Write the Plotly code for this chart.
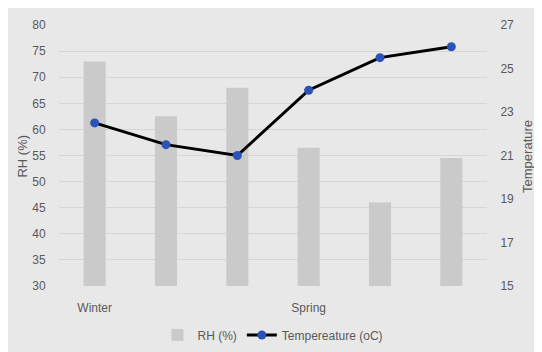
import plotly.graph_objects as go

categories = ["Winter", "", "", "Spring", "", ""]
rh_values = [73, 62.5, 68, 56.5, 46, 54.5]
temp_values = [22.5, 21.5, 21, 24, 25.5, 26]
left_ticks = [30, 35, 40, 45, 50, 55, 60, 65, 70, 75, 80]
right_ticks = [15, 17, 19, 21, 23, 25, 27]

# page body has an 8px margin; positions below are measured in page pixels
OFF = 8
W, H = 542, 352
ML, MT = 59 - OFF, 25 - OFF
MR = W - (487.5 - OFF)
MB = H - (287 - OFF)
PW = W - ML - MR
PH = H - MT - MB

def px_x(px):
    return (px - OFF - ML) / PW

def px_y(py):
    return (H - MB - (py - OFF)) / PH

xpos = list(range(len(categories)))
tickpos = [i for i, c in enumerate(categories) if c]
ticktxt = [c for c in categories if c]

font = dict(family="Liberation Sans, Arial", size=12, color="#595959")

fig = go.Figure()
fig.add_trace(go.Bar(
    x=xpos, y=rh_values, name="RH (%)", width=0.31,
    marker=dict(color="#CACACA", line=dict(width=0)),
    yaxis="y",
))
fig.add_trace(go.Scatter(
    x=xpos, y=temp_values, name="Tempereature (oC)", mode="lines+markers",
    line=dict(color="#000000", width=3),
    marker=dict(color="#2A53B5", size=9),
    yaxis="y2",
))

fig.update_layout(
    template="none",
    width=W, height=H,
    margin=dict(l=ML, r=MR, t=MT, b=MB, pad=0),
    paper_bgcolor="#E9E8E9",
    plot_bgcolor="rgba(0,0,0,0)",
    font=font,
    showlegend=True,
    legend=dict(orientation="h", x=0.5, xanchor="center", y=px_y(335), yanchor="middle",
                font=dict(family="Liberation Sans, Arial", size=12, color="#595959"),
                bgcolor="rgba(0,0,0,0)", itemwidth=30, traceorder="normal"),
    xaxis=dict(range=[-0.5, len(categories) - 0.5], tickmode="array", tickvals=tickpos,
               ticktext=ticktxt, showgrid=False, zeroline=False, showline=False,
               ticks="outside", ticklen=11, tickcolor="rgba(0,0,0,0)",
               tickfont=font, fixedrange=True, automargin=False),
    yaxis=dict(range=[30, 80], tickmode="array", tickvals=left_ticks, showgrid=True,
               gridcolor="#D6D6D6", gridwidth=1, zeroline=False, showline=False,
               ticks="outside", ticklen=10, tickcolor="rgba(0,0,0,0)", tickfont=font,
               automargin=False),
    yaxis2=dict(range=[15, 27], tickmode="array", tickvals=right_ticks, overlaying="y",
                side="right", showgrid=False, zeroline=False, showline=False,
                ticks="outside", ticklen=10, tickcolor="rgba(0,0,0,0)", tickfont=font,
                automargin=False),
    bargap=0.69,
    annotations=[
        dict(text="RH (%)", xref="paper", yref="paper", x=px_x(22), y=px_y(157),
             textangle=-90, showarrow=False, font=dict(family="Liberation Sans, Arial", size=13, color="#595959"),
             xanchor="center", yanchor="middle"),
        dict(text="Temperature", xref="paper", yref="paper", x=px_x(528), y=px_y(157),
             textangle=-90, showarrow=False, font=dict(family="Liberation Sans, Arial", size=13, color="#595959"),
             xanchor="center", yanchor="middle"),
    ],
)

fig.write_html("out.html")
